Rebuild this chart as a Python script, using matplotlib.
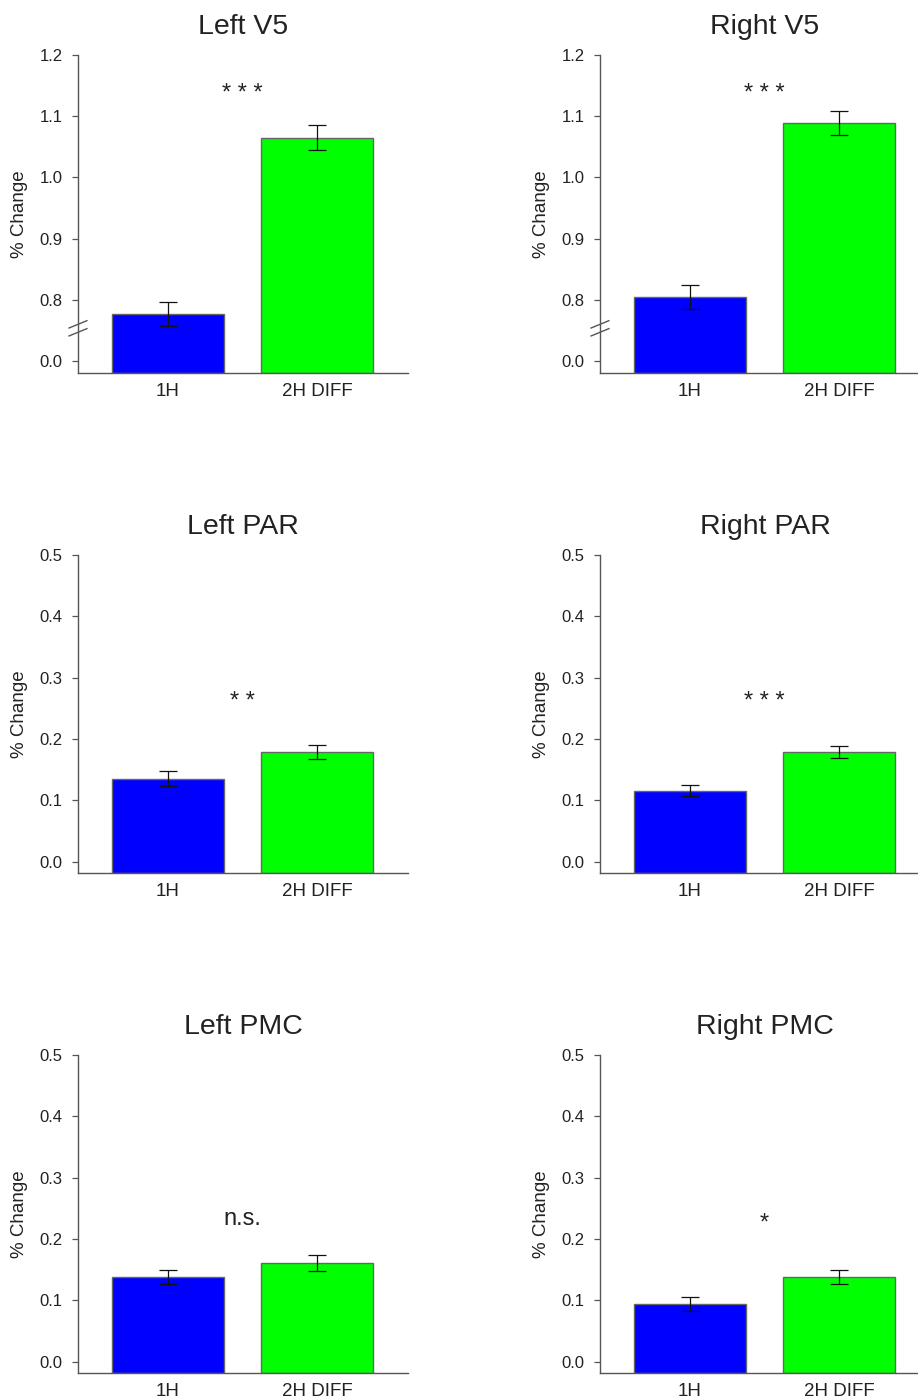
import matplotlib
matplotlib.use("Agg")
import matplotlib.pyplot as plt
import numpy as np

plt.rcParams['font.family'] = ['Liberation Sans', 'DejaVu Sans']

categories = ["1H", "2H DIFF"]
titles = ["Left V5", "Right V5", "Left PAR", "Right PAR", "Left PMC", "Right PMC"]
means_1h = [0.777, 0.805, 0.135, 0.116, 0.138, 0.094]
means_2h = [1.065, 1.089, 0.179, 0.179, 0.161, 0.138]
err_1h = [0.020, 0.020, 0.012, 0.009, 0.011, 0.011]
err_2h = [0.020, 0.020, 0.011, 0.010, 0.013, 0.011]
sig_labels = ["* * *", "* * *", "* *", "* * *", "n.s.", "*"]
sig_y = [1.137, 1.137, 0.260, 0.260, 0.232, 0.225]

# broken axis for V5 panels: position 0.7 labelled "0.0"
v5_ticks = [0.7, 0.8, 0.9, 1.0, 1.1, 1.2]
v5_ticklabels = ["0.0", "0.8", "0.9", "1.0", "1.1", "1.2"]
low_ticks = [0.0, 0.1, 0.2, 0.3, 0.4, 0.5]
low_ticklabels = ["0.0", "0.1", "0.2", "0.3", "0.4", "0.5"]

W, H = 918, 1398
fig = plt.figure(figsize=(W / 100, H / 100), dpi=100)

col_x = [78, 600]
row_top = [55, 555, 1055]
ax_w, ax_h = 330, 318
txt = "#222222"

for i, title in enumerate(titles):
    r, c = divmod(i, 2)
    left = col_x[c] / W
    bottom = 1 - (row_top[r] + ax_h) / H
    ax = fig.add_axes([left, bottom, ax_w / W, ax_h / H])
    x = np.arange(len(categories))
    vals = np.array([means_1h[i], means_2h[i]])
    errs = [err_1h[i], err_2h[i]]
    ybot = 0.6805 if r == 0 else -0.0185
    ytop = 1.2 if r == 0 else 0.5
    ax.bar(x, vals - ybot, bottom=ybot, width=0.75, color=["#0000ff", "#00ff00"],
           edgecolor="#666666", linewidth=1.0, zorder=2)
    ax.errorbar(x, vals, yerr=errs, fmt="none", ecolor="#111111", elinewidth=0.9,
                capsize=6.5, capthick=0.9, zorder=3)
    ax.set_xlim(-0.604, 1.61)
    ax.set_ylim(ybot, ytop)
    if r == 0:
        ax.set_yticks(v5_ticks)
        ax.set_yticklabels(v5_ticklabels)
        # break marks on the y axis
        for yb in [0.747, 0.760]:
            ax.plot([-0.604 - 0.06, -0.604 + 0.06], [yb - 0.006, yb + 0.006], color="#555555", lw=1.0,
                    clip_on=False, zorder=5)
    else:
        ax.set_yticks(low_ticks)
        ax.set_yticklabels(low_ticklabels)
    ax.set_xticks(x)
    ax.set_xticklabels(categories)
    ax.tick_params(axis="x", length=0, pad=7, labelsize=13.5, labelcolor=txt)
    ax.tick_params(axis="y", length=4.5, width=0.9, color="#555555", pad=6.5, labelsize=12, labelcolor=txt)
    for s in ["top", "right"]:
        ax.spines[s].set_visible(False)
    for s in ["left", "bottom"]:
        ax.spines[s].set_color("#555555")
        ax.spines[s].set_linewidth(1.0)
    ax.set_ylabel("% Change", fontsize=13.5, color=txt, labelpad=8)
    ax.set_title(title, fontsize=20.5, color=txt, pad=15)
    ax.text(0.5, sig_y[i], sig_labels[i], ha="center", va="center", fontsize=17, color=txt)

fig.savefig("out.png", dpi=100)
